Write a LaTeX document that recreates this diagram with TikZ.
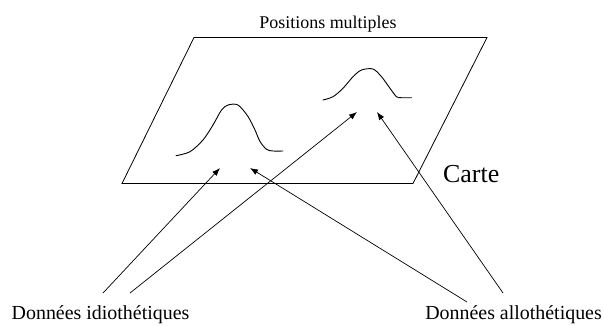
\documentclass[tikz,border=0pt]{standalone}
\usepackage{fontspec}
\setmainfont{Liberation Serif}
\usetikzlibrary{arrows.meta,positioning}

\begin{document}
\begin{tikzpicture}[
  x=1bp, y=-1bp,
  every node/.style={inner sep=0pt},
  lbl/.style={font=\fontsize{20}{24}\selectfont},
  ttl/.style={font=\fontsize{18}{22}\selectfont, anchor=base},
  big/.style={font=\fontsize{26}{30}\selectfont, anchor=base west},
  plane/.style={line width=0.8bp, line join=miter},
  bump/.style={line width=0.9bp, line join=round, line cap=round},
  ar/.style={-{Latex[length=8bp,width=6bp]}, line width=0.7bp}
]
\useasboundingbox (0,0) rectangle (604,325);
% the map plane
\draw[plane] (194,37.5) -- (487,37.5) -- (413,183.5) -- (122,183.5) -- cycle;
\node[ttl] (pos) at (328,28.5) {Positions multiples};
\node[big] (carte) at (443,182) {Carte};
% the two bumps
\draw[bump] plot[smooth, tension=0.5] coordinates {(176,155.7) (190,151.7) (203,140) (213,125)
  (221.5,110) (228,105) (238,105) (248,116.5) (255,130) (260,141.5) (266.5,149.3) (273,151) (283,151)};
\draw[bump] plot[smooth, tension=0.5] coordinates {(323,100) (333,96.7) (343,88.3) (353,76.7)
  (361.5,70) (373,69) (381.5,76.7) (390,88.3) (396.5,96.7) (401.5,97.7) (411.5,97.7)};
% targets below the bumps
\coordinate (p1) at (220,168);
\coordinate (p2) at (250,168);
\coordinate (q1) at (357,112);
\coordinate (q2) at (377,112);
% the data
\node[lbl, anchor=base west] (idio) at (11.5,319.5) {Données idiothétiques};
\node[lbl, anchor=base east] (allo) at (602,319.5) {Données allothétiques};
\coordinate (i1) at (103,293);
\coordinate (i2) at (130,293);
\coordinate (a1) at (467,302);
\coordinate (a2) at (503,293);
\draw[ar] (i1) -- (p1);
\draw[ar] (i2) -- (q1);
\draw[ar] (a1) -- (p2);
\draw[ar] (a2) -- (q2);
\end{tikzpicture}
\end{document}
